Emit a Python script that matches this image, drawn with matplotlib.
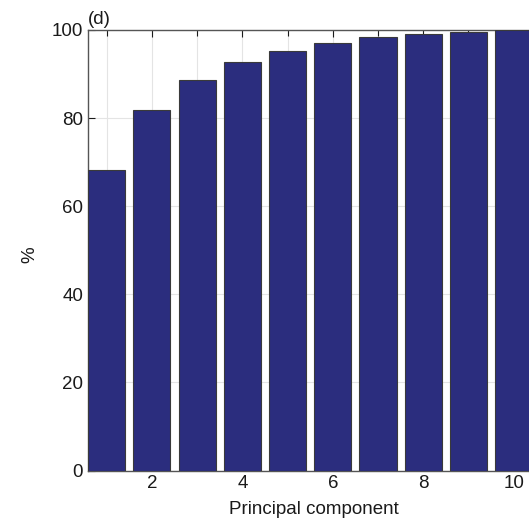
import matplotlib
matplotlib.use("Agg")
import matplotlib.pyplot as plt
import numpy as np

components = [1, 2, 3, 4, 5, 6, 7, 8, 9, 10]
cumulative = [68.2, 81.8, 88.6, 92.7, 95.3, 97.1, 98.4, 99.1, 99.6, 100.0]
yticks = [0, 20, 40, 60, 80, 100]
xticks = [2, 4, 6, 8, 10]

plt.rcParams['font.family'] = ['Liberation Sans', 'DejaVu Sans']

W, H = 529, 525
fig = plt.figure(figsize=(W / 100, H / 100), dpi=100)
left = 88 / W
bottom = (H - 470.5) / H
top = (H - 30) / H
right = 540.7 / W
ax = fig.add_axes([left, bottom, right - left, top - bottom])

ax.bar(components, cumulative, width=0.82, color='#2b2d7e', edgecolor='#3a3a3a',
       linewidth=0.8, zorder=3)

ax.set_xlim(0.585, 10.6)
ax.set_ylim(0, 100)
ax.set_xticks(xticks)
ax.set_xticks(components, minor=True)
ax.set_yticks(yticks)
ax.tick_params(axis='both', which='both', direction='in', labelsize=13.5,
               colors='#1a1a1a', top=True, right=False)
ax.tick_params(axis='both', which='major', length=5, width=0.8)
ax.tick_params(axis='x', which='minor', length=4, width=0.8)
ax.grid(True, which='both', color='#e4e4e4', linewidth=0.8, zorder=0)

for s in ['left', 'top', 'bottom']:
    ax.spines[s].set_color('#555555')
    ax.spines[s].set_linewidth(1.0)
ax.spines['right'].set_visible(False)

ax.set_xlabel('Principal component', fontsize=13.5, color='#1a1a1a', labelpad=6)
fig.text(30 / W, 1 - 255 / H, '%', rotation=90, fontsize=13.5, color='#1a1a1a',
         ha='center', va='center')
ax.text(0.0, 1.005, '(d)', transform=ax.transAxes, fontsize=13.5,
        ha='left', va='bottom', color='#1a1a1a')

fig.savefig('out.png', dpi=100)
